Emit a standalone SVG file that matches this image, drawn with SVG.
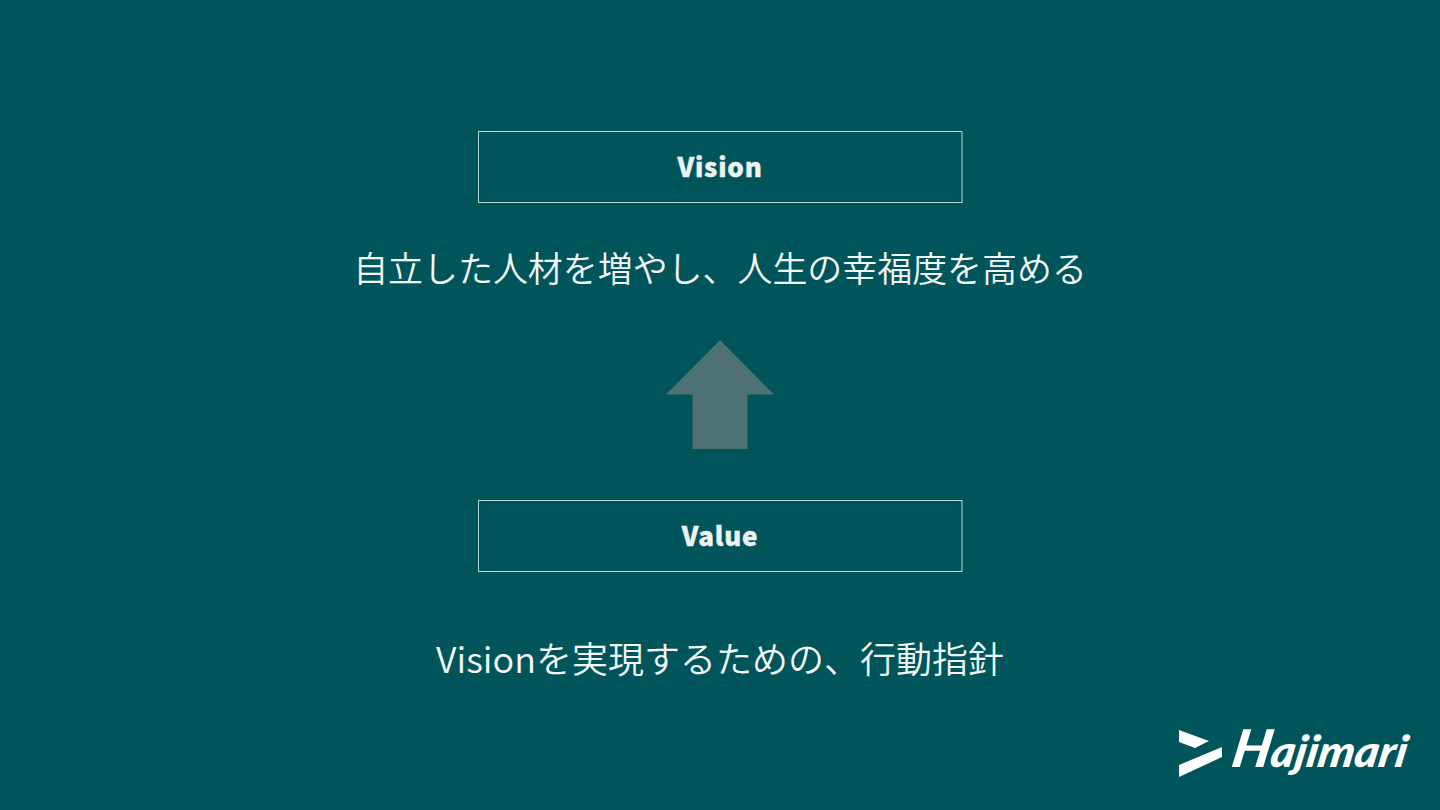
<svg xmlns="http://www.w3.org/2000/svg" width="1440" height="810" viewBox="0 0 1440 810">
<style>
.box{fill:none;stroke:#b5d6d2;stroke-width:1}
.lab{font-family:"Noto Sans CJK JP","Noto Sans",sans-serif;font-weight:900;font-size:26px;fill:#eef2f2;text-anchor:middle;letter-spacing:.8px;stroke:#eef2f2;stroke-width:.4px}
.big{font-family:"Noto Sans CJK JP","Noto Sans",sans-serif;font-weight:350;fill:#f4f7f7;text-anchor:middle}
</style>
<rect width="1440" height="810" fill="#00555a"/>
<g id="vision"><rect class="box" x="478.500" y="131.500" width="483.500" height="71"/><text class="lab" x="720" y="177">Vision</text></g>
<g id="vision-text"><text class="big" x="720" y="282" font-size="34.95">自立した人材を増やし、人生の幸福度を高める</text></g>
<g id="connectors"><polygon points="720,340 774,394.500 747.500,394.500 747.500,449 692.500,449 692.500,394.500 666,394.500" fill="#4d7072"/></g>
<g id="value"><rect class="box" x="478.500" y="500.500" width="483.500" height="71"/><text class="lab" x="720" y="546">Value</text></g>
<g id="value-text"><text class="big" x="720" y="673" font-size="36">Visionを実現するための、行動指針</text></g>
<g id="logo" fill="#fff"><polygon points="1179,730 1209,741 1195,748 1179,742"/><polygon points="1179,765 1222,747 1222,757 1179,777"/><text x="1230" y="767" transform="translate(1230 767) skewX(-10) translate(-1230 -767)" font-family="Lato,sans-serif" font-weight="900" font-style="italic" font-size="44" textLength="175" lengthAdjust="spacingAndGlyphs"><tspan font-size="52">H</tspan>ajimari</text></g>
</svg>
